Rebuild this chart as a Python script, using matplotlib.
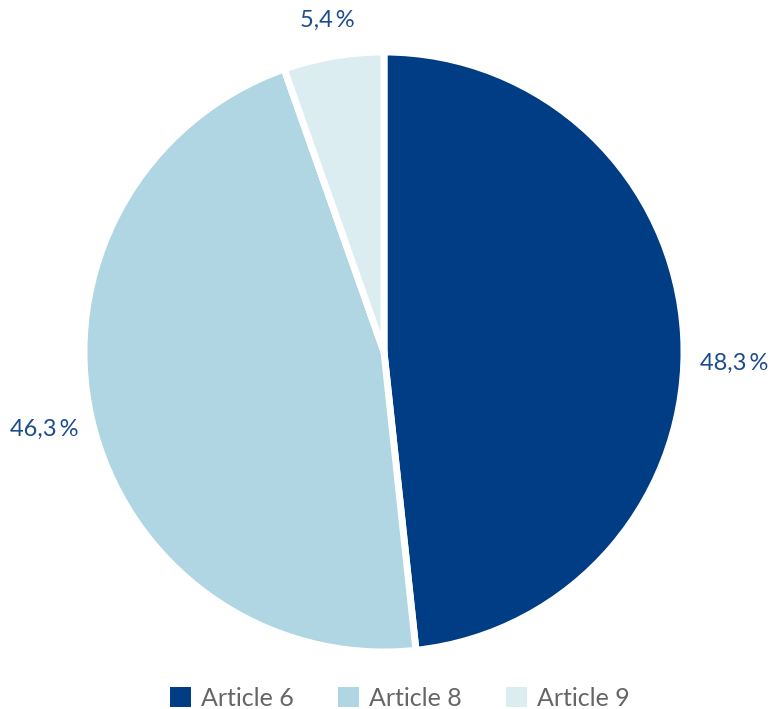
import matplotlib
matplotlib.use("Agg")
import matplotlib.pyplot as plt
import numpy as np
from matplotlib.patches import Rectangle

plt.rcParams["font.family"] = ["Lato", "DejaVu Sans"]

CATEGORIES = ["Article 6", "Article 8", "Article 9"]
SHARES = [48.3, 46.3, 5.4]
LABELS = ["48,3\u2009%", "46,3\u2009%", "5,4\u2009%"]
COLORS = ["#003d84", "#b0d6e3", "#dcedf1"]
LABEL_COLOR = "#1c4c8c"
LEGEND_TEXT = "#666666"

W, H = 772, 709
fig = plt.figure(figsize=(W / 100, H / 100), dpi=100)

# pie centre and radius in pixels
cx, cy, r = 384, 352, 300
ax = fig.add_axes([(cx - r) / W, (H - cy - r) / H, 2 * r / W, 2 * r / H])

wedges, _ = ax.pie(SHARES, colors=COLORS, startangle=90, counterclock=False,
                   radius=1.0, wedgeprops=dict(edgecolor="white", linewidth=5))
ax.set_xlim(-1, 1)
ax.set_ylim(-1, 1)
ax.set_aspect("equal")
ax.axis("off")

# value labels just outside each wedge, along its mid-angle
label_dist = [1.17, 1.16, 1.12]
label_nudge = [(0, -0.1), (0, 0), (0, 0)]
for w, txt, d, (nx, ny) in zip(wedges, LABELS, label_dist, label_nudge):
    mid = np.deg2rad((w.theta1 + w.theta2) / 2)
    ax.text(d * np.cos(mid) + nx, d * np.sin(mid) + ny, txt,
            ha="center", va="center", fontsize=17, color=LABEL_COLOR,
            clip_on=False)

handles = [Rectangle((0, 0), 1, 1, facecolor=c, edgecolor="none") for c in COLORS]
leg = fig.legend(handles, CATEGORIES, loc="center", ncol=3,
                 bbox_to_anchor=(400 / W, 1 - 698 / H), frameon=False,
                 fontsize=18, handlelength=0.85, handleheight=0.85,
                 handletextpad=0.4, columnspacing=1.75)
for t in leg.get_texts():
    t.set_color(LEGEND_TEXT)

fig.savefig("out.png", dpi=100, facecolor="white")
